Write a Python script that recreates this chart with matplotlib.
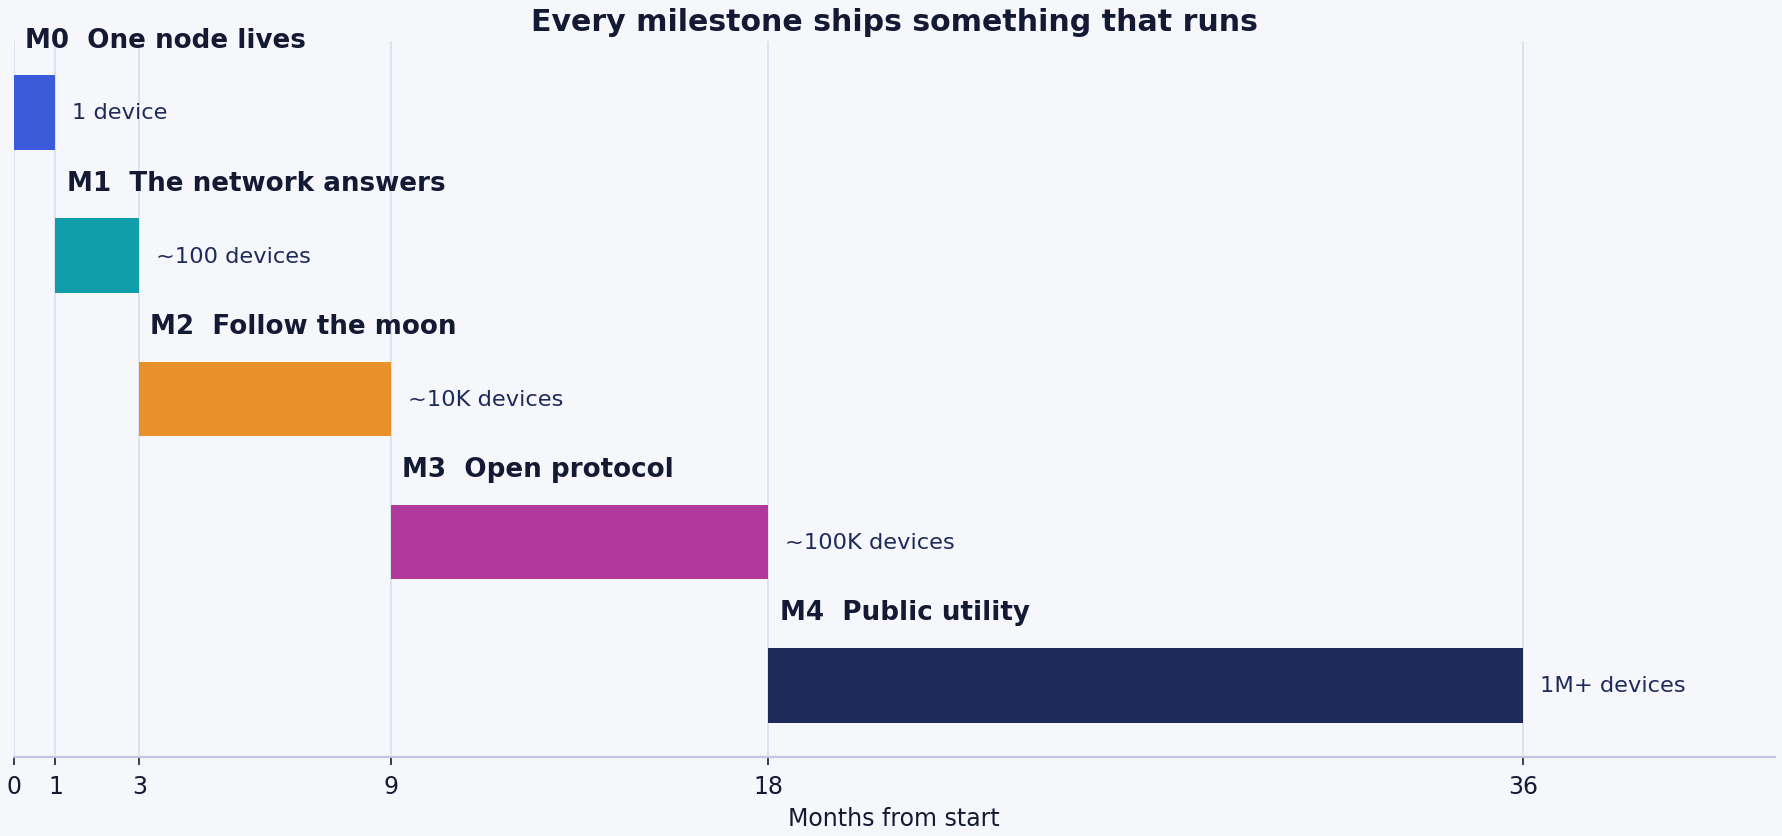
import numpy as np
import matplotlib.pyplot as plt

# milestone data
codes = ["M0", "M1", "M2", "M3", "M4"]
names = ["One node lives", "The network answers", "Follow the moon", "Open protocol", "Public utility"]
starts = [0, 1, 3, 9, 18]
ends = [1, 3, 9, 18, 36]
scale = ["1 device", "~100 devices", "~10K devices", "~100K devices", "1M+ devices"]
colors = ["#3b5bdb", "#0f9eaa", "#e8912b", "#b0399b", "#1e2a5a"]
ticks = [0, 1, 3, 9, 18, 36]

bg = "#f5f7fb"
ink = "#141a33"

fig = plt.figure(figsize=(8.91, 4.185), dpi=200, facecolor=bg)
ax = fig.add_axes([0.0076, 0.0944, 0.9884, 0.8556], facecolor=bg)

y = np.arange(len(codes))
widths = np.array(ends) - np.array(starts)
ax.barh(y, widths, left=starts, height=0.52, color=colors, zorder=2)

for i in range(len(codes)):
    ax.annotate(f"{codes[i]}  {names[i]}", (starts[i], y[i] - 0.46),
                xytext=(4, 0), textcoords="offset points",
                fontsize=9.4, fontweight="bold", color=ink, va="baseline", ha="left")
    ax.annotate(scale[i], (ends[i], y[i]), xytext=(6, 0), textcoords="offset points",
                fontsize=8.1, color="#1e2a5a", va="center", ha="left")

ax.set_xlim(0, 42)
ax.set_ylim(4.5, -0.5)
ax.set_xticks(ticks)
ax.set_yticks([])
ax.tick_params(axis="x", labelsize=8.5, colors=ink, length=3, width=0.6, pad=3)
ax.grid(axis="x", color="#dde3ee", linewidth=0.7, zorder=0)
ax.set_axisbelow(True)
for s in ["top", "right", "left"]:
    ax.spines[s].set_visible(False)
ax.spines["bottom"].set_color("#c0c6dc")
ax.spines["bottom"].set_linewidth(0.8)

ax.set_xlabel("Months from start", fontsize=8.5, color=ink, labelpad=3)
ax.set_title("Every milestone ships something that runs", fontsize=10.8,
             fontweight="bold", color=ink, pad=4)

fig.savefig("out.png", dpi=200, facecolor=bg)
